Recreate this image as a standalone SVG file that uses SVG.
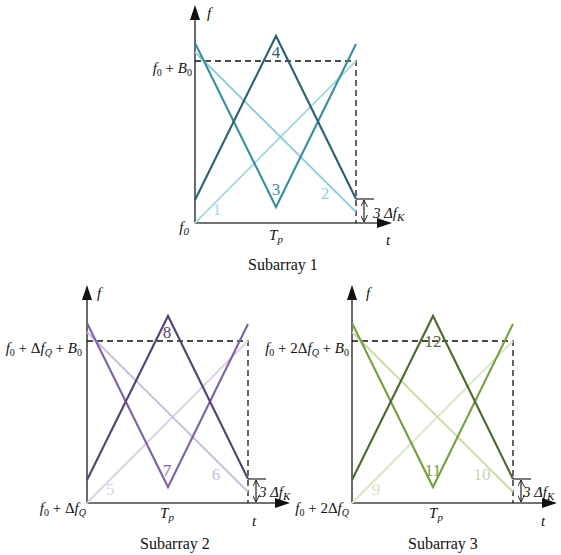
<svg xmlns="http://www.w3.org/2000/svg" width="561" height="555" viewBox="0 0 561 555">
<style>
text{font-family:"Liberation Serif","DejaVu Serif","Times New Roman",Times,serif;fill:#111}
.ax{stroke:#444;stroke-width:1.6;fill:none}
.ah{fill:#111}
.dash{stroke:#111;stroke-width:1.3;stroke-dasharray:6,4;fill:none}
.ln{fill:none;stroke-width:2.1;stroke-linejoin:miter}
.lt{fill:none;stroke-width:1.8}
.num{font-size:17px}
.lab{font-size:15px}
.it{font-style:italic}
.cap{font-size:16px}
.brk{stroke:#222;stroke-width:1.2;fill:none}
</style>
<defs>
<marker id="dh" viewBox="0 0 10 10" refX="10" refY="5" markerWidth="7" markerHeight="7" orient="auto-start-reverse" markerUnits="userSpaceOnUse">
<path d="M0,0 L10,5 L0,10" fill="none" stroke="#222" stroke-width="1.4"/>
</marker>
</defs>

<g id="subarray1" transform="translate(195,223)">
<line class="ax" x1="0" y1="0" x2="0" y2="-206"/>
<polygon class="ah" points="0,-218 -5,-203 5,-203"/>
<line class="ax" x1="0" y1="0" x2="186" y2="0"/>
<polygon class="ah" points="197,0 182,-5 182,5"/>
<polyline class="dash" points="0,-162 161,-162 161,0"/>
<line class="lt" stroke="#a8dae4" x1="0" y1="0" x2="161" y2="-162"/>
<line class="lt" stroke="#8fcdd9" x1="0" y1="-171" x2="161" y2="-11"/>
<polyline class="ln" stroke="#3b8e9e" points="0,-180 81,-16 161,-179"/>
<polyline class="ln" stroke="#2c6170" points="0,-23 81,-187 161,-24"/>
<line class="brk" x1="161" y1="-24" x2="179" y2="-24"/>
<line class="brk" x1="169" y1="-23" x2="169" y2="-1" marker-start="url(#dh)" marker-end="url(#dh)"/>
<text class="num" x="22" y="-8" text-anchor="middle" style="fill:#a8dae4">1</text>
<text class="num" x="130" y="-24" text-anchor="middle" style="fill:#8fcdd9">2</text>
<text class="num" x="81" y="-28" text-anchor="middle" style="fill:#3b8e9e">3</text>
<text class="num" x="81" y="-165" text-anchor="middle" style="fill:#2c6170">4</text>
<text class="lab it" x="12" y="-205" font-size="17">f</text>
<text class="lab" x="-3" y="-150" text-anchor="end" font-size="16"><tspan class="it">f</tspan><tspan font-size="10" dy="3">0</tspan><tspan dy="-3"> + </tspan><tspan class="it">B</tspan><tspan font-size="10" dy="3">0</tspan></text>
<text class="lab it" x="-6" y="9" text-anchor="end" font-size="16">f<tspan font-size="11" dy="3">0</tspan></text>
<text class="lab it" x="81" y="17" text-anchor="middle" font-size="17">T<tspan font-size="11" dy="3">p</tspan></text>
<text class="lab it" x="191" y="22" font-size="17">t</text>
<text class="lab it" x="178" y="-5" font-size="17">3 Δf<tspan font-size="11" dy="3">K</tspan></text>
<text class="cap" x="88" y="47" text-anchor="middle">Subarray 1</text>
</g>

<g id="subarray2" transform="translate(87,503)">
<line class="ax" x1="0" y1="0" x2="0" y2="-206"/>
<polygon class="ah" points="0,-218 -5,-203 5,-203"/>
<line class="ax" x1="0" y1="0" x2="192" y2="0"/>
<polygon class="ah" points="203,0 188,-5 188,5"/>
<polyline class="dash" points="0,-162 161,-162 161,0"/>
<line class="lt" stroke="#d9d1e6" x1="0" y1="0" x2="161" y2="-162"/>
<line class="lt" stroke="#c9bddb" x1="0" y1="-171" x2="161" y2="-11"/>
<polyline class="ln" stroke="#7e62a8" points="0,-180 81,-16 161,-179"/>
<polyline class="ln" stroke="#544373" points="0,-23 81,-187 161,-24"/>
<line class="brk" x1="161" y1="-24" x2="179" y2="-24"/>
<line class="brk" x1="169" y1="-23" x2="169" y2="-1" marker-start="url(#dh)" marker-end="url(#dh)"/>
<text class="num" x="23" y="-8" text-anchor="middle" style="fill:#d9d1e6">5</text>
<text class="num" x="129" y="-23" text-anchor="middle" style="fill:#c9bddb">6</text>
<text class="num" x="80" y="-27" text-anchor="middle" style="fill:#7e62a8">7</text>
<text class="num" x="80" y="-165" text-anchor="middle" style="fill:#544373">8</text>
<text class="lab it" x="10" y="-205" font-size="17">f</text>
<text class="lab" x="-5" y="-150" text-anchor="end"><tspan class="it">f</tspan><tspan font-size="10" dy="3">0</tspan><tspan dy="-3"> + Δ</tspan><tspan class="it">f</tspan><tspan class="it" font-size="10" dy="3">Q</tspan><tspan dy="-3"> + </tspan><tspan class="it">B</tspan><tspan font-size="10" dy="3">0</tspan></text>
<text class="lab" x="-1" y="10" text-anchor="end"><tspan class="it">f</tspan><tspan font-size="10" dy="3">0</tspan><tspan dy="-3"> + Δ</tspan><tspan class="it">f</tspan><tspan class="it" font-size="10" dy="3">Q</tspan></text>
<text class="lab it" x="80" y="15" text-anchor="middle" font-size="17">T<tspan font-size="11" dy="3">p</tspan></text>
<text class="lab it" x="165" y="23" font-size="17">t</text>
<text class="lab it" x="172" y="-6" font-size="17">3 Δf<tspan font-size="11" dy="3">K</tspan></text>
<text class="cap" x="88" y="46" text-anchor="middle">Subarray 2</text>
</g>

<g id="subarray3" transform="translate(352,503)">
<line class="ax" x1="0" y1="0" x2="0" y2="-206"/>
<polygon class="ah" points="0,-218 -5,-203 5,-203"/>
<line class="ax" x1="0" y1="0" x2="194" y2="0"/>
<polygon class="ah" points="205,0 190,-5 190,5"/>
<polyline class="dash" points="0,-162 161,-162 161,0"/>
<line class="lt" stroke="#d8e5bf" x1="0" y1="0" x2="161" y2="-162"/>
<line class="lt" stroke="#c6d9a3" x1="0" y1="-171" x2="161" y2="-11"/>
<polyline class="ln" stroke="#76a040" points="0,-180 81,-16 161,-179"/>
<polyline class="ln" stroke="#4d6a2e" points="0,-23 81,-187 161,-24"/>
<line class="brk" x1="161" y1="-24" x2="179" y2="-24"/>
<line class="brk" x1="169" y1="-23" x2="169" y2="-1" marker-start="url(#dh)" marker-end="url(#dh)"/>
<text class="num" x="24" y="-8" text-anchor="middle" style="fill:#d8e5bf">9</text>
<text class="num" x="130" y="-23" text-anchor="middle" style="fill:#c6d9a3">10</text>
<text class="num" x="81" y="-27" text-anchor="middle" style="fill:#76a040">11</text>
<text class="num" x="81" y="-156" text-anchor="middle" style="fill:#4d6a2e">12</text>
<text class="lab it" x="14" y="-205" font-size="17">f</text>
<text class="lab" x="-3" y="-150" text-anchor="end"><tspan class="it">f</tspan><tspan font-size="10" dy="3">0</tspan><tspan dy="-3"> + 2Δ</tspan><tspan class="it">f</tspan><tspan class="it" font-size="10" dy="3">Q</tspan><tspan dy="-3"> + </tspan><tspan class="it">B</tspan><tspan font-size="10" dy="3">0</tspan></text>
<text class="lab" x="-3" y="10" text-anchor="end"><tspan class="it">f</tspan><tspan font-size="10" dy="3">0</tspan><tspan dy="-3"> + 2Δ</tspan><tspan class="it">f</tspan><tspan class="it" font-size="10" dy="3">Q</tspan></text>
<text class="lab it" x="84" y="15" text-anchor="middle" font-size="17">T<tspan font-size="11" dy="3">p</tspan></text>
<text class="lab it" x="189" y="23" font-size="17">t</text>
<text class="lab it" x="171" y="-6" font-size="17">3 Δf<tspan font-size="11" dy="3">K</tspan></text>
<text class="cap" x="91" y="46" text-anchor="middle">Subarray 3</text>
</g>
</svg>
